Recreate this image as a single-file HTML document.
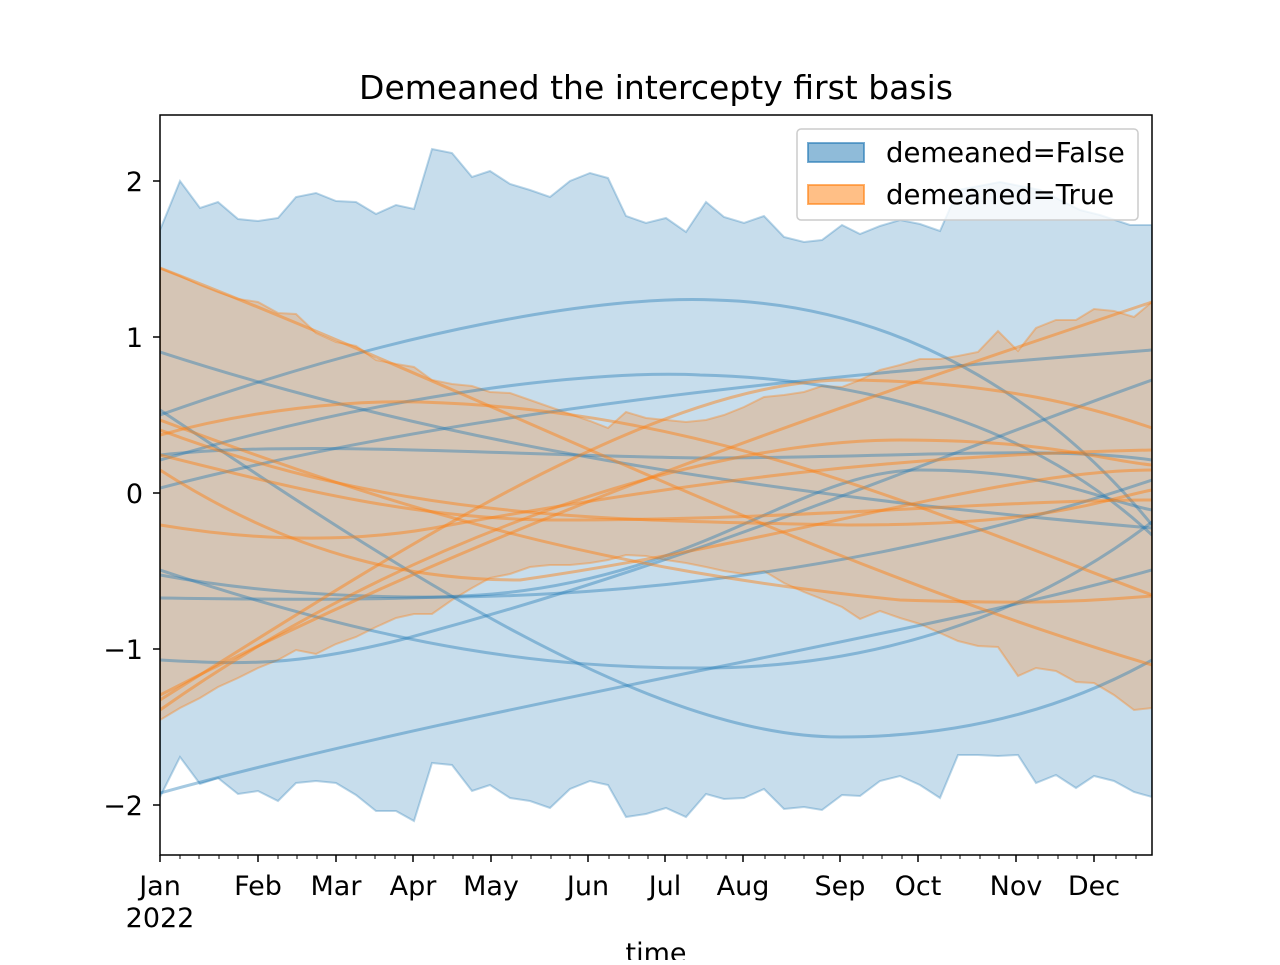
<!DOCTYPE html>
<html><head><meta charset="utf-8"><style>
body{margin:0;background:#fff}
svg text{font-family:"DejaVu Sans","Liberation Sans",sans-serif;fill:#000}
</style></head><body>
<svg width="1280" height="960" xmlns="http://www.w3.org/2000/svg">
<rect width="1280" height="960" fill="#fff"/>
<defs><clipPath id="c"><rect x="160" y="115" width="992" height="740"/></clipPath></defs>
<g clip-path="url(#c)">
<polygon fill="#1f77b4" fill-opacity="0.25" stroke="#1f77b4" stroke-opacity="0.3" stroke-width="2" points="160,230 180,181 200,208 218,202 238,219 258,221 278,218 296,197 316,193 336,201 356,202 376,214 396,205 414,209 432,149 452,153 472,177 490,171 510,184 530,190 550,197 570,181 590,173 608,178 626,216 646,223 666,218 686,232 706,202 724,217 744,223 764,216 784,237 804,242 822,240 842,225 860,234 880,226 900,220 920,224 940,231 958,190 1000,182 1040,190 1080,210 1100,215 1130,225 1152,225 1152,797 1134,792 1114,781 1094,776 1076,788 1056,775 1036,783 1018,755 998,756 978,755 958,755 940,798 920,785 900,776 880,781 860,796 842,795 822,810 804,807 784,809 764,789 744,798 724,799 706,794 686,817 666,808 646,814 626,817 608,785 590,781 570,789 550,808 530,801 510,798 490,785 472,791 452,765 432,763 414,821 396,811 376,811 356,795 336,783 316,781 296,783 278,801 258,791 238,794 218,778 200,784 180,757 160,797"/>
<polygon fill="#ff7f0e" fill-opacity="0.25" stroke="#ff7f0e" stroke-opacity="0.35" stroke-width="2" points="160,268 180,276 200,285 218,292 238,299 258,302 278,313 296,314 316,333 336,342 356,346 376,360 396,364 414,367 432,380 452,384 472,386 490,392 510,393 530,400 550,407 570,414 590,421 608,428 626,412 646,418 666,420 686,422 706,420 724,415 744,407 764,397 784,395 804,392 822,386 842,387 860,380 880,370 900,365 920,359 940,359 958,356 978,352 998,331 1018,351 1036,328 1056,320 1076,320 1094,309 1114,311 1134,317 1152,302 1152,708 1134,710 1114,695 1094,683 1076,682 1056,671 1036,668 1018,676 998,647 978,646 958,641 940,633 920,624 900,618 880,611 860,619 842,607 822,599 804,592 784,583 764,571 744,574 724,571 706,567 686,563 666,560 646,556 626,555 608,560 590,563 570,565 550,565 530,567 510,574 490,578 472,588 452,600 432,614 414,614 396,618 376,627 356,637 336,644 316,654 296,650 278,660 258,668 238,678 218,687 200,698 180,708 160,720"/>
<g fill="none" stroke="#1f77b4" stroke-opacity="0.4" stroke-width="3">
<path d="M160,415 C400,330 600,295 715,300 C900,305 1050,400 1152,525"/>
<path d="M160,460 C400,390 600,370 700,375 C900,380 1050,440 1152,535"/>
<path d="M160,352 C400,430 700,490 1152,528"/>
<path d="M160,455 C300,440 500,455 700,458 C900,458 1050,445 1152,460"/>
<path d="M160,488 C500,400 900,370 1152,350"/>
<path d="M160,410 C400,570 650,737 840,737 C980,737 1080,700 1152,660"/>
<path d="M160,570 C400,650 550,668 700,668 C900,668 1050,600 1152,522"/>
<path d="M160,598 C300,600 400,600 480,595 C700,580 800,470 920,470 C1050,470 1100,500 1152,510"/>
<path d="M160,660 C250,665 300,665 400,640 C700,560 900,470 1152,380"/>
<path d="M160,793 C500,700 900,640 1152,570"/>
<path d="M160,575 C400,620 800,600 1152,480"/>
</g>
<g fill="none" stroke="#ff7f0e" stroke-opacity="0.45" stroke-width="3">
<path d="M160,268 C500,400 800,560 1152,665"/>
<path d="M160,435 C250,410 350,400 420,402 C700,410 900,500 1152,595"/>
<path d="M160,695 C500,520 800,420 1152,302"/>
<path d="M160,700 C400,550 650,385 840,380 C1000,380 1100,410 1152,428"/>
<path d="M160,525 C250,540 350,545 450,525 C700,480 900,455 1152,450"/>
<path d="M160,455 C300,490 420,520 560,520 C800,520 1000,500 1152,500"/>
<path d="M160,470 C300,560 420,580 520,580 C800,540 1000,470 1152,470"/>
<path d="M160,710 C400,540 700,440 900,440 C1050,440 1100,460 1152,465"/>
<path d="M160,420 C400,510 600,570 900,600 C1050,605 1100,600 1152,596"/>
<path d="M160,430 C400,520 600,520 850,525 C1050,525 1100,500 1152,490"/>
</g>
</g>
<rect x="160" y="115" width="992" height="740" fill="none" stroke="#000" stroke-width="1.5"/>
<g stroke="#000" stroke-width="1.5">
<line x1="153" y1="181" x2="160" y2="181"/><line x1="153" y1="337" x2="160" y2="337"/><line x1="153" y1="493" x2="160" y2="493"/><line x1="153" y1="649" x2="160" y2="649"/><line x1="153" y1="805" x2="160" y2="805"/>
<line x1="160" y1="855" x2="160" y2="862"/><line x1="258" y1="855" x2="258" y2="862"/><line x1="336" y1="855" x2="336" y2="862"/><line x1="413" y1="855" x2="413" y2="862"/><line x1="491" y1="855" x2="491" y2="862"/><line x1="588" y1="855" x2="588" y2="862"/><line x1="665" y1="855" x2="665" y2="862"/><line x1="743" y1="855" x2="743" y2="862"/><line x1="840" y1="855" x2="840" y2="862"/><line x1="918" y1="855" x2="918" y2="862"/><line x1="1016" y1="855" x2="1016" y2="862"/><line x1="1094" y1="855" x2="1094" y2="862"/>
</g>
<g stroke="#000" stroke-width="1">
<path d="M180,855v4M199,855v4M219,855v4M238,855v4M278,855v4M297,855v4M317,855v4M356,855v4M375,855v4M395,855v4M434,855v4M453,855v4M473,855v4M512,855v4M531,855v4M551,855v4M570,855v4M609,855v4M629,855v4M648,855v4M687,855v4M707,855v4M726,855v4M765,855v4M785,855v4M804,855v4M823,855v4M863,855v4M882,855v4M902,855v4M941,855v4M960,855v4M980,855v4M999,855v4M1038,855v4M1058,855v4M1077,855v4M1116,855v4M1136,855v4"/>
</g>
<g font-size="27">
<text x="143" y="191" text-anchor="end">2</text><text x="143" y="347" text-anchor="end">1</text><text x="143" y="503" text-anchor="end">0</text><text x="143" y="659" text-anchor="end">−1</text><text x="143" y="815" text-anchor="end">−2</text>
<g text-anchor="middle"><text x="160" y="895">Jan</text><text x="160" y="927">2022</text><text x="258" y="895">Feb</text><text x="336" y="895">Mar</text><text x="413" y="895">Apr</text><text x="491" y="895">May</text><text x="588" y="895">Jun</text><text x="665" y="895">Jul</text><text x="743" y="895">Aug</text><text x="840" y="895">Sep</text><text x="918" y="895">Oct</text><text x="1016" y="895">Nov</text><text x="1094" y="895">Dec</text>
<text x="656" y="962">time</text>
<text x="656" y="99" font-size="33">Demeaned the intercepty first basis</text></g>
</g>
<rect x="797" y="129" width="341" height="91" rx="4" fill="#fff" fill-opacity="0.8" stroke="#ccc" stroke-width="1.5"/>
<rect x="808" y="143" width="56" height="19" fill="#1f77b4" fill-opacity="0.5" stroke="#1f77b4" stroke-opacity="0.6" stroke-width="2"/>
<rect x="808" y="185" width="56" height="19" fill="#ff7f0e" fill-opacity="0.5" stroke="#ff7f0e" stroke-opacity="0.6" stroke-width="2"/>
<text x="886" y="162" font-size="27.5">demeaned=False</text>
<text x="886" y="204" font-size="27.5">demeaned=True</text>
</svg>
</body></html>
